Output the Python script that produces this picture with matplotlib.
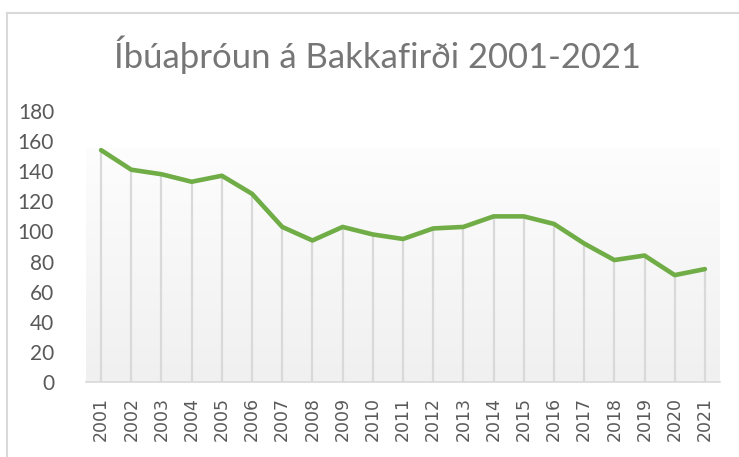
import numpy as np
import matplotlib.pyplot as plt
from matplotlib.lines import Line2D
from matplotlib.colors import LinearSegmentedColormap

years = list(range(2001, 2022))
ibuar = [154, 141, 138, 133, 137, 125, 103, 94, 103, 98, 95,
         102, 103, 110, 110, 105, 92, 81, 84, 71, 75]
y_ticks = list(range(0, 181, 20))
title = "Íbúaþróun á Bakkafirði 2001-2021"

W, H = 739, 457
fig = plt.figure(figsize=(W / 100, H / 100), dpi=100)
fig.patch.set_facecolor("white")

# ramminn utan um myndina
lc = "#d9d9d9"
fig.add_artist(Line2D([7 / W, 1], [1 - 13 / H, 1 - 13 / H], color=lc, lw=1.5))
fig.add_artist(Line2D([7 / W, 7 / W], [0, 1 - 13 / H], color=lc, lw=1.5))

ax = fig.add_axes([86 / W, (H - 382) / H, (720 - 86) / W, (382 - 111) / H])
ax.set_facecolor("white")

# litabreyting i bakgrunni
grad = np.linspace(0, 1, 256).reshape(-1, 1)
cmap = LinearSegmentedColormap.from_list("g", ["#f0f0f0", "#fdfdfd"])
ax.imshow(grad, extent=[2000.5, 2021.5, 0, 155], origin="lower",
          aspect="auto", cmap=cmap, zorder=0)

ax.vlines(years, 0, ibuar, color="#d9d9d9", lw=1.6, zorder=1)
ax.plot(years, ibuar, color="#70ad47", lw=3.3, solid_capstyle="round",
        solid_joinstyle="round", zorder=3)

ax.set_xlim(2000.5, 2021.5)
ax.set_ylim(0, 180)
ax.set_yticks(y_ticks)
ax.set_xticks(years)
ax.set_xticklabels([str(y) for y in years], rotation=90, fontsize=12.5,
                   color="#595959", family="DejaVu Sans")
ax.set_yticklabels([str(v) for v in y_ticks], fontsize=15,
                   color="#595959", family="Lato")
ax.tick_params(length=0)
ax.tick_params(axis="y", pad=23)
ax.tick_params(axis="x", pad=11)
for s in ["top", "right", "left"]:
    ax.spines[s].set_visible(False)
ax.spines["bottom"].set_color("#d9d9d9")
ax.spines["bottom"].set_linewidth(1.2)

t = fig.text(377 / W, 1 - 55 / H, title, ha="center", va="center",
             fontsize=24, color="#767676", family="Lato")
# stilla leturstaerd svo titillinn verdi um 527 px breidur
fig.canvas.draw()
w = t.get_window_extent().width
t.set_fontsize(24 * 527 / w)

fig.savefig("out.png", dpi=100)
